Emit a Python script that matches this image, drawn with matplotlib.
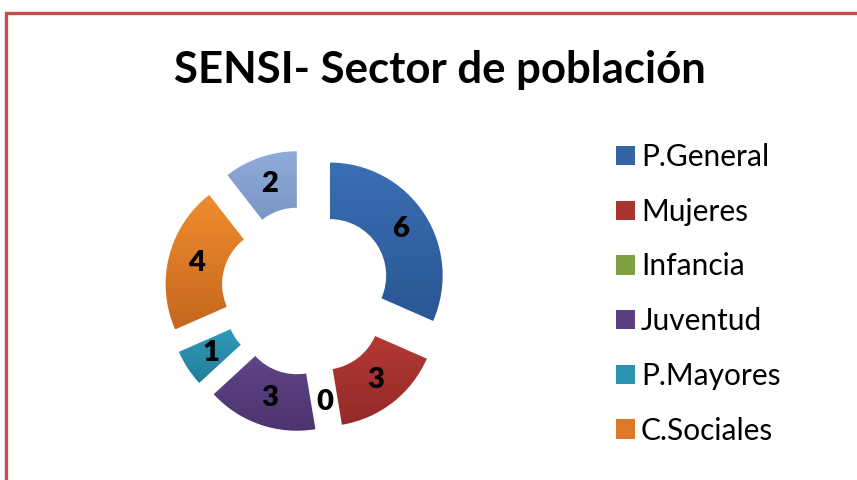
import numpy as np
import matplotlib
matplotlib.use("Agg")
import matplotlib.pyplot as plt
from matplotlib.patches import Patch, Rectangle
from matplotlib.colors import LinearSegmentedColormap

# ---- data ----
categories = ["P.General", "Mujeres", "Infancia", "Juventud", "P.Mayores", "C.Sociales", ""]
values = [6, 3, 0, 3, 1, 4, 2]
legend_labels = ["P.General", "Mujeres", "Infancia", "Juventud", "P.Mayores", "C.Sociales"]
title = "SENSI- Sector de población"

# gradient colours (top, bottom)
grad_top = ["#3B6EB4", "#BA3D39", "#92B24C", "#6A4C94", "#36A6C6", "#F08C2E", "#8FACDB"]
grad_bot = ["#2A5794", "#942A28", "#6E8C35", "#4C346E", "#227E98", "#C6671E", "#6C87B4"]
legend_colors = ["#3464A6", "#A8332F", "#809F40", "#5B3F80", "#2C93B0", "#DC7826"]

W, H, DPI = 857, 480, 100
fig = plt.figure(figsize=(W / DPI, H / DPI), dpi=DPI)
fig.patch.set_facecolor("white")

# border (red frame cropped at right/bottom)
fig.add_artist(Rectangle((6 / W, -0.1), 1.2, 1 - 13.5 / H + 0.1,
                         transform=fig.transFigure, fill=False,
                         edgecolor="#C0504D", linewidth=2.4))

# title
fig.text(440 / W, 1 - 83 / H, title, ha="center", va="baseline",
         fontsize=31.5, fontweight="bold", family=["Lato", "DejaVu Sans"])

# donut axes: 1 data unit = R px, centre at (306, 291)
R = 113.0
cx, cy = 306.0, 291.0
half = 1.5
ax = fig.add_axes([(cx - half * R) / W, (H - cy - half * R) / H,
                   2 * half * R / W, 2 * half * R / H])

explode = [0.25] * len(values)
wedges, texts = ax.pie(values, explode=explode, startangle=90, counterclock=False,
                       radius=1.0, labels=[str(v) for v in values], labeldistance=0.75,
                       wedgeprops=dict(width=0.5, linewidth=0, facecolor="none"),
                       normalize=True)

for i, (w, t) in enumerate(zip(wedges, texts)):
    t.set_ha("center")
    t.set_va("center")
    t.set_fontsize(21)
    t.set_fontweight("heavy")
    t.set_family(["Lato", "DejaVu Sans"])
    t.set_zorder(5)
    if values[i] == 0:
        continue
    verts = w.get_path().vertices
    x0, y0 = verts.min(axis=0)
    x1, y1 = verts.max(axis=0)
    cmap = LinearSegmentedColormap.from_list("g%d" % i, [grad_bot[i], grad_top[i]])
    grad = np.linspace(0, 1, 256).reshape(-1, 1)
    im = ax.imshow(grad, extent=(x0, x1, y0, y1), origin="lower", cmap=cmap,
                   aspect="auto", zorder=2, interpolation="bilinear")
    im.set_clip_path(w)

ax.set_xlim(-half, half)
ax.set_ylim(-half, half)
ax.set_aspect("equal")
ax.axis("off")

# legend
handles = [Patch(facecolor=c, edgecolor="none") for c in legend_colors]
fig.legend(handles, legend_labels, loc="upper left",
           bbox_to_anchor=(616 / W, 1 - 143 / H), frameon=False,
           prop=dict(family=["Lato", "DejaVu Sans"], size=21.5),
           handlelength=0.62, handleheight=0.62, handletextpad=0.22,
           labelspacing=0.895, borderaxespad=0, borderpad=0)

fig.savefig("out.png", dpi=DPI)
